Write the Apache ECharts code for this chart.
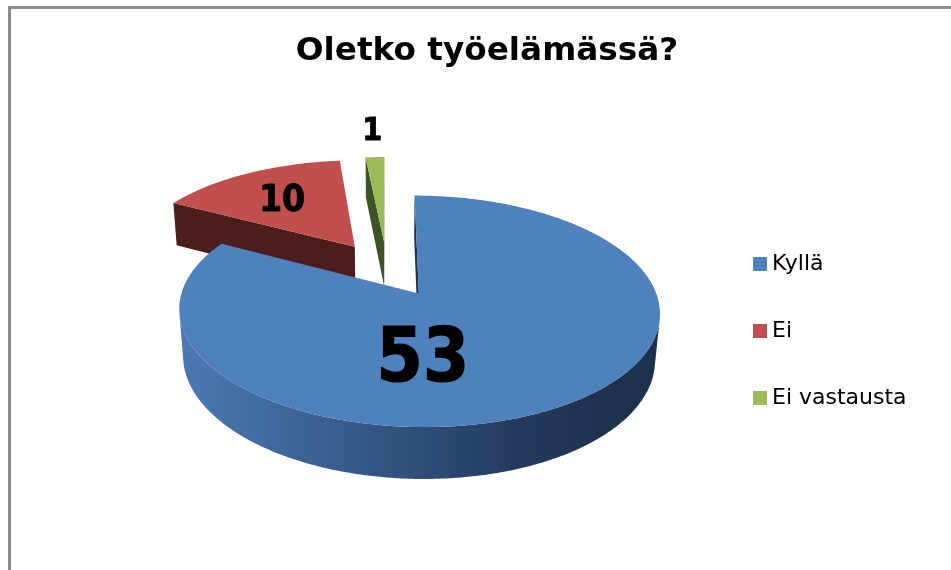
<!DOCTYPE html>
<html><head><meta charset="utf-8">
<script src="https://cdn.jsdelivr.net/npm/echarts@6/dist/echarts.min.js"></script>
<style>html,body{margin:0;padding:0;background:#fff}#c{width:951px;height:570px}</style>
</head><body><div id="c"></div>
<script>
// ---- data ----
const titleText = 'Oletko työelämässä?';
const categories = ['Kyllä', 'Ei', 'Ei vastausta'];
const values = [53, 10, 1];

// ---- styles ----
const topColors = ['#4F81BD', '#C0504D', '#9BBB59'];
const faceColors = ['#1F3350', '#4B1D1D', '#3E5223'];
const wallStops = [
  [[0, '#4B79B0'], [0.03, '#4a78ae'], [0.26, '#3d6394'], [0.51, '#2f4d76'], [0.71, '#23395c'], [0.88, '#1f324e'], [1, '#1E314C']],
  [[0, '#4B1D1D'], [1, '#4B1D1D']],
  [[0, '#3E5223'], [1, '#3E5223']]
];
// ---- 3D projection layout ----
const P = {cx: 387, cy: 269, f: 1363, D: 5.94, sin: 0.46, cos: 0.8879, h: 0.226, explode: 0.261, startDeg: 90,
  wallX0: 178, wallX1: 658};
const labelLayout = [
  {dAngle: -30.5, r: 0.55, size: 74, stroke: 1.2},
  {dAngle: 2.5, r: 0.61, size: 37, stroke: 0.8},
  {dAngle: 0, r: 1.35, size: 32, stroke: 0.8}
];

function proj(X, Y, Z) {
  const dc = P.D - Z * P.cos - Y * P.sin;
  const yc = Y * P.cos - Z * P.sin;
  return [P.cx + P.f * X / dc, P.cy - P.f * yc / dc];
}
const cam = [0, P.D * P.sin, P.D * P.cos];
const total = values.reduce((a, b) => a + b, 0);
const slices = [];
let acc = 0;
values.forEach((v) => {
  const a0 = (P.startDeg - 360 * acc / total) * Math.PI / 180;
  acc += v;
  const a1 = (P.startDeg - 360 * acc / total) * Math.PI / 180;
  const am = (a0 + a1) / 2;
  slices.push({a0, a1, am, ox: P.explode * Math.cos(am), oz: -P.explode * Math.sin(am)});
});

function makeRender(i) {
  return function (params, api) {
    const s = slices[i];
    const val = api.value(0);
    const children = [];
    const pt = (a, Y, r) => proj(s.ox + r * Math.cos(a), Y, s.oz - r * Math.sin(a));
    const span = s.a0 - s.a1;
    const N = Math.max(6, Math.ceil(span / (Math.PI / 360)));
    const angs = [], vis = [];
    for (let k = 0; k <= N; k++) {
      const a = s.a0 - span * k / N;
      angs.push(a);
      const px = s.ox + Math.cos(a), pz = s.oz - Math.sin(a);
      vis.push((cam[0] - px) * Math.cos(a) + (cam[2] - pz) * (-Math.sin(a)) > 0);
    }
    const wallFill = {type: 'linear', x: P.wallX0, y: 0, x2: P.wallX1, y2: 0, global: true,
      colorStops: wallStops[i].map(s => ({offset: s[0], color: s[1]}))};
    let run = [];
    const flush = () => {
      if (run.length > 1) {
        const top = run.map(a => pt(a, 0, 1));
        const bot = run.slice().reverse().map(a => pt(a, -P.h, 1));
        children.push({type: 'polygon', shape: {points: top.concat(bot)}, style: {fill: wallFill}, z2: 1});
      }
      run = [];
    };
    for (let k = 0; k <= N; k++) {
      const inc = vis[k] || (k > 0 && vis[k - 1]) || (k < N && vis[k + 1]);
      if (inc) run.push(angs[k]); else flush();
    }
    flush();
    // radial faces
    const faces = [{a: s.a0, n: [-Math.sin(s.a0), -Math.cos(s.a0)]}, {a: s.a1, n: [Math.sin(s.a1), Math.cos(s.a1)]}];
    faces.forEach(fc => {
      const dot = (cam[0] - s.ox) * fc.n[0] + (cam[2] - s.oz) * fc.n[1];
      if (dot > 0) {
        children.push({type: 'polygon', shape: {points: [pt(fc.a, 0, 0), pt(fc.a, 0, 1), pt(fc.a, -P.h, 1), pt(fc.a, -P.h, 0)]},
          style: {fill: faceColors[i]}, z2: 2});
      }
    });
    // top face
    const topPts = [pt(0, 0, 0)].concat(angs.map(a => pt(a, 0, 1)));
    children.push({type: 'polygon', shape: {points: topPts}, style: {fill: topColors[i]}, z2: 3});
    // label
    const L = labelLayout[i];
    const la = s.am + L.dAngle * Math.PI / 180;
    const lp = pt(la, 0, L.r);
    children.push({type: 'text', x: lp[0], y: lp[1], z2: 4,
      style: {text: String(val), fill: '#000', align: 'center', verticalAlign: 'middle',
        stroke: '#000', lineWidth: L.stroke,
        font: 'bold ' + L.size + 'px "DejaVu Sans Condensed", "DejaVu Sans", sans-serif'}});
    return {type: 'group', children};
  };
}

// back-to-front order: farther slices (larger sin(mid-angle)) drawn first
const depthRank = slices.map((s, i) => ({i, d: Math.sin(s.am)})).sort((a, b) => b.d - a.d);
const zOf = {};
depthRank.forEach((o, k) => { zOf[o.i] = 2 + k; });

const chart = echarts.init(document.getElementById('c'), null, {renderer: 'canvas'});
chart.setOption({
  backgroundColor: '#fff',
  animation: false,
  color: topColors,
  title: {text: titleText, left: 482, textAlign: 'center', top: 30,
    textStyle: {fontFamily: 'DejaVu Sans', fontWeight: 'bold', fontSize: 32.7, color: '#000'}},
  legend: {data: categories, orient: 'vertical', left: 753, top: 253, padding: 0, itemWidth: 14, itemHeight: 14, itemGap: 45,
    icon: 'rect', textStyle: {fontFamily: 'DejaVu Sans', fontSize: 22, color: '#000'}, selectedMode: false},
  graphic: [{type: 'rect', shape: {x: 9.5, y: 7.5, width: 1000, height: 1000}, style: {fill: null, stroke: '#8c8c8c', lineWidth: 3}, silent: true}],
  series: categories.map((name, i) => ({
    type: 'custom', name, coordinateSystem: 'none', z: zOf[i], silent: true,
    itemStyle: {color: topColors[i]},
    renderItem: makeRender(i),
    data: [values[i]]
  }))
});
</script></body></html>
